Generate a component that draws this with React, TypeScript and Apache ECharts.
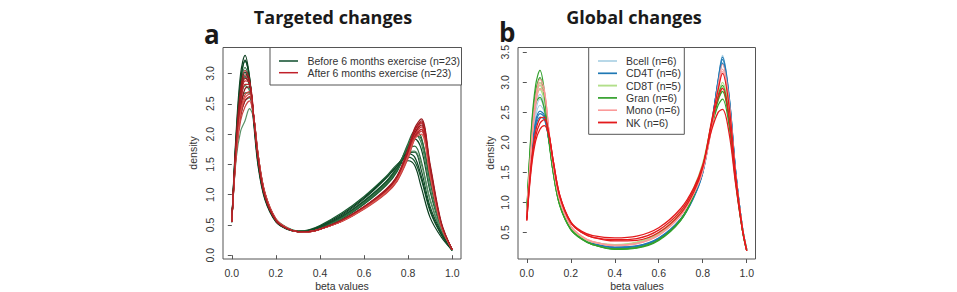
import React, { useEffect, useRef } from "react";
import * as echarts from "echarts";

// Beta-value grid for the targeted-changes densities
const betaGridA = [0, 0.02, 0.04, 0.06, 0.08, 0.1, 0.12, 0.15, 0.2, 0.25, 0.3, 0.35, 0.4, 0.5, 0.6, 0.7, 0.75, 0.8, 0.83, 0.86, 0.9, 0.95, 1.0];

// Density curves, before 6 months exercise
const beforeExercise = [
  [0.55, 2.05, 3.0, 3.3, 2.95, 2.15, 1.45, 0.92, 0.55, 0.43, 0.39, 0.41, 0.48, 0.68, 0.95, 1.28, 1.46, 1.56, 1.48, 1.12, 0.62, 0.3, 0.08],
  [0.56, 1.98, 2.9, 3.2, 2.92, 2.2, 1.5, 0.95, 0.56, 0.44, 0.4, 0.42, 0.49, 0.7, 0.97, 1.3, 1.5, 1.62, 1.55, 1.25, 0.72, 0.34, 0.08],
  [0.55, 1.9, 2.78, 3.1, 2.9, 2.25, 1.55, 0.97, 0.57, 0.44, 0.39, 0.4, 0.46, 0.64, 0.9, 1.22, 1.45, 1.75, 1.8, 1.55, 0.9, 0.4, 0.09],
  [0.54, 1.85, 2.65, 2.95, 2.8, 2.25, 1.58, 0.99, 0.58, 0.45, 0.4, 0.41, 0.46, 0.63, 0.88, 1.2, 1.44, 1.8, 1.92, 1.75, 1.05, 0.45, 0.09],
  [0.55, 1.8, 2.55, 2.8, 2.72, 2.25, 1.6, 1.0, 0.58, 0.45, 0.4, 0.4, 0.45, 0.61, 0.85, 1.16, 1.4, 1.82, 2.0, 1.85, 1.1, 0.45, 0.08],
  [0.55, 1.7, 2.3, 2.55, 2.6, 2.25, 1.62, 1.02, 0.59, 0.45, 0.4, 0.4, 0.44, 0.6, 0.84, 1.15, 1.38, 1.78, 1.98, 1.92, 1.25, 0.5, 0.09],
  [0.55, 1.6, 2.05, 2.22, 2.42, 2.25, 1.65, 1.03, 0.6, 0.46, 0.4, 0.4, 0.45, 0.62, 0.87, 1.2, 1.45, 1.7, 1.72, 1.5, 0.92, 0.42, 0.09],
  [0.56, 1.95, 2.85, 3.22, 2.95, 2.22, 1.5, 0.94, 0.56, 0.43, 0.39, 0.41, 0.47, 0.66, 0.93, 1.27, 1.48, 1.68, 1.62, 1.3, 0.75, 0.35, 0.08],
  [0.55, 1.75, 2.4, 2.68, 2.68, 2.25, 1.6, 1.0, 0.58, 0.45, 0.4, 0.4, 0.45, 0.62, 0.86, 1.18, 1.42, 1.85, 2.05, 1.95, 1.2, 0.48, 0.09],
  [0.55, 1.88, 2.72, 3.02, 2.85, 2.25, 1.55, 0.97, 0.57, 0.44, 0.39, 0.4, 0.46, 0.64, 0.89, 1.21, 1.44, 1.68, 1.7, 1.4, 0.8, 0.38, 0.08],
];

// Density curves, after 6 months exercise
const afterExercise = [
  [0.55, 1.85, 2.65, 2.98, 2.88, 2.25, 1.58, 0.98, 0.57, 0.44, 0.39, 0.39, 0.43, 0.58, 0.8, 1.08, 1.3, 1.72, 2.05, 2.22, 1.45, 0.52, 0.09],
  [0.55, 1.8, 2.55, 2.88, 2.85, 2.28, 1.6, 1.0, 0.58, 0.44, 0.39, 0.39, 0.43, 0.57, 0.79, 1.06, 1.28, 1.7, 2.02, 2.18, 1.42, 0.52, 0.09],
  [0.55, 1.75, 2.45, 2.75, 2.78, 2.28, 1.62, 1.01, 0.58, 0.45, 0.39, 0.39, 0.43, 0.57, 0.78, 1.05, 1.26, 1.68, 2.0, 2.15, 1.4, 0.5, 0.09],
  [0.55, 1.72, 2.38, 2.65, 2.7, 2.28, 1.63, 1.02, 0.59, 0.45, 0.39, 0.39, 0.43, 0.56, 0.77, 1.03, 1.24, 1.65, 1.98, 2.12, 1.38, 0.5, 0.09],
  [0.55, 1.68, 2.3, 2.55, 2.62, 2.27, 1.64, 1.03, 0.59, 0.45, 0.39, 0.39, 0.43, 0.56, 0.77, 1.03, 1.23, 1.62, 1.94, 2.08, 1.35, 0.49, 0.09],
  [0.55, 1.65, 2.22, 2.45, 2.55, 2.26, 1.65, 1.04, 0.6, 0.45, 0.39, 0.39, 0.43, 0.56, 0.76, 1.02, 1.22, 1.6, 1.92, 2.05, 1.32, 0.48, 0.09],
  [0.55, 1.9, 2.75, 3.05, 2.9, 2.25, 1.57, 0.97, 0.57, 0.44, 0.39, 0.39, 0.43, 0.58, 0.8, 1.09, 1.31, 1.75, 2.1, 2.25, 1.5, 0.55, 0.09],
  [0.55, 1.78, 2.5, 2.82, 2.82, 2.27, 1.61, 1.0, 0.58, 0.44, 0.39, 0.39, 0.43, 0.57, 0.79, 1.06, 1.27, 1.66, 1.96, 2.08, 1.38, 0.5, 0.09],
  [0.55, 1.7, 2.35, 2.6, 2.66, 2.27, 1.63, 1.02, 0.59, 0.45, 0.39, 0.39, 0.43, 0.56, 0.77, 1.04, 1.25, 1.64, 1.92, 2.0, 1.3, 0.48, 0.09],
  [0.55, 1.82, 2.6, 2.92, 2.86, 2.26, 1.59, 0.99, 0.58, 0.44, 0.39, 0.39, 0.43, 0.58, 0.8, 1.07, 1.29, 1.74, 2.08, 2.2, 1.46, 0.53, 0.09],
];

// Beta-value grid for the global-changes densities
const betaGridB = [0, 0.02, 0.04, 0.06, 0.08, 0.1, 0.12, 0.15, 0.2, 0.25, 0.3, 0.4, 0.5, 0.6, 0.7, 0.76, 0.8, 0.84, 0.87, 0.89, 0.92, 0.95, 0.98, 1.0];

const bcell = [
  [0.78, 1.85, 2.5, 2.72, 2.55, 2.05, 1.55, 1.0, 0.58, 0.4, 0.31, 0.25, 0.27, 0.4, 0.72, 1.1, 1.5, 2.3, 3.05, 3.42, 2.75, 1.5, 0.6, 0.22],
  [0.76, 1.8, 2.42, 2.62, 2.5, 2.05, 1.56, 1.01, 0.59, 0.41, 0.32, 0.26, 0.28, 0.41, 0.73, 1.11, 1.5, 2.28, 3.02, 3.38, 2.72, 1.48, 0.58, 0.22],
  [0.8, 1.9, 2.58, 2.8, 2.6, 2.05, 1.54, 0.99, 0.58, 0.4, 0.31, 0.25, 0.27, 0.4, 0.71, 1.08, 1.48, 2.27, 3.05, 3.45, 2.78, 1.52, 0.6, 0.22],
];
const cd4t = [
  [0.75, 1.75, 2.3, 2.48, 2.42, 2.05, 1.58, 1.03, 0.6, 0.41, 0.32, 0.25, 0.27, 0.4, 0.72, 1.1, 1.5, 2.3, 3.02, 3.38, 2.75, 1.52, 0.6, 0.22],
  [0.74, 1.72, 2.25, 2.42, 2.38, 2.05, 1.58, 1.03, 0.6, 0.42, 0.32, 0.26, 0.28, 0.41, 0.73, 1.11, 1.52, 2.32, 3.0, 3.32, 2.7, 1.5, 0.6, 0.22],
  [0.76, 1.78, 2.35, 2.52, 2.45, 2.05, 1.57, 1.02, 0.6, 0.41, 0.32, 0.25, 0.27, 0.4, 0.71, 1.09, 1.49, 2.28, 3.03, 3.42, 2.78, 1.52, 0.6, 0.22],
];
const cd8t = [
  [0.78, 1.95, 2.7, 2.95, 2.75, 2.15, 1.58, 1.0, 0.58, 0.42, 0.34, 0.29, 0.33, 0.48, 0.82, 1.22, 1.62, 2.3, 2.75, 2.92, 2.45, 1.4, 0.58, 0.22],
  [0.78, 1.92, 2.65, 2.88, 2.7, 2.14, 1.58, 1.0, 0.58, 0.42, 0.34, 0.3, 0.34, 0.5, 0.84, 1.25, 1.65, 2.3, 2.7, 2.85, 2.4, 1.38, 0.57, 0.22],
  [0.79, 1.98, 2.75, 3.0, 2.78, 2.15, 1.57, 0.99, 0.57, 0.42, 0.34, 0.29, 0.33, 0.48, 0.82, 1.22, 1.62, 2.32, 2.8, 3.0, 2.5, 1.42, 0.58, 0.22],
];
const gran = [
  [0.85, 2.2, 2.95, 3.2, 2.85, 2.1, 1.5, 0.95, 0.55, 0.39, 0.3, 0.23, 0.25, 0.38, 0.72, 1.15, 1.58, 2.3, 2.78, 2.95, 2.42, 1.38, 0.55, 0.2],
  [0.84, 2.15, 2.85, 3.08, 2.78, 2.08, 1.5, 0.95, 0.55, 0.39, 0.3, 0.22, 0.24, 0.37, 0.7, 1.12, 1.55, 2.25, 2.7, 2.85, 2.35, 1.35, 0.55, 0.2],
  [0.82, 2.05, 2.65, 2.75, 2.55, 2.02, 1.5, 0.96, 0.56, 0.4, 0.3, 0.23, 0.25, 0.38, 0.71, 1.13, 1.55, 2.25, 2.62, 2.72, 2.28, 1.32, 0.55, 0.2],
];
const mono = [
  [0.8, 1.95, 2.75, 3.05, 2.88, 2.22, 1.62, 1.03, 0.6, 0.43, 0.34, 0.28, 0.31, 0.45, 0.78, 1.15, 1.52, 2.25, 2.95, 3.3, 2.7, 1.48, 0.58, 0.2],
  [0.78, 1.9, 2.68, 2.98, 2.85, 2.22, 1.63, 1.04, 0.61, 0.44, 0.35, 0.29, 0.32, 0.46, 0.79, 1.16, 1.53, 2.24, 2.9, 3.22, 2.62, 1.45, 0.58, 0.2],
  [0.79, 1.88, 2.6, 2.9, 2.82, 2.22, 1.63, 1.04, 0.61, 0.44, 0.35, 0.29, 0.32, 0.46, 0.78, 1.15, 1.52, 2.22, 2.88, 3.18, 2.6, 1.44, 0.58, 0.2],
];
const nk = [
  [0.7, 1.6, 2.1, 2.32, 2.38, 2.15, 1.7, 1.12, 0.68, 0.52, 0.45, 0.41, 0.44, 0.58, 0.9, 1.25, 1.62, 2.2, 2.5, 2.55, 2.15, 1.3, 0.55, 0.2],
  [0.72, 1.65, 2.18, 2.4, 2.42, 2.15, 1.68, 1.1, 0.66, 0.5, 0.42, 0.38, 0.4, 0.54, 0.86, 1.22, 1.6, 2.3, 2.75, 2.9, 2.4, 1.4, 0.57, 0.2],
  [0.7, 1.55, 2.02, 2.22, 2.28, 2.12, 1.7, 1.12, 0.67, 0.5, 0.42, 0.36, 0.37, 0.5, 0.82, 1.18, 1.58, 2.35, 2.88, 3.15, 2.6, 1.45, 0.58, 0.2],
];

const cellTypes = ["Bcell (n=6)", "CD4T (n=6)", "CD8T (n=5)", "Gran (n=6)", "Mono (n=6)", "NK (n=6)"];
const cellCurves = [bcell, cd4t, cd8t, gran, mono, nk];
const exerciseLabels = ["Before 6 months exercise (n=23)", "After 6 months exercise (n=23)"];

const xTicks = [0, 0.2, 0.4, 0.6, 0.8, 1.0];
const yTicksA = [0, 0.5, 1.0, 1.5, 2.0, 2.5, 3.0];
const yTicksB = [0.5, 1.0, 1.5, 2.0, 2.5, 3.0, 3.5];

// Line colours
const beforeShades = ["#0b3d1f", "#175a30", "#2e6e42", "#0f4a26", "#3f7f52", "#1d5c34", "#5b9168", "#0d4424", "#2a6a3e", "#134f2b"];
const afterShades = ["#a3151c", "#c0272d", "#8c1218", "#d23a3a", "#b01e24", "#c94444", "#9a1a1f", "#b8282c", "#d9554f", "#a81d22"];
const cellColors = ["#A6CEE3", "#1F78B4", "#B2DF8A", "#33A02C", "#FB9A99", "#E31A1C"];
const cellWidths = [1.1, 1.2, 1.4, 1.2, 1.1, 1.3];

const FONT = "'Liberation Sans', Arial, sans-serif";
const TITLE_FONT = "'Open Sans', 'Liberation Sans', sans-serif";
const AXIS_COLOR = "#555";
const TEXT_COLOR = "#333";

const toPoints = (grid: number[], ys: number[]) => grid.map((x, i) => [x, ys[i]]);

function makeAxes(gridIndex: number, yMin: number, yMax: number, yTicks: number[]) {
  const fmt = (v: number) => v.toFixed(1);
  const xAxis = {
    type: "value",
    gridIndex,
    min: -0.04,
    max: 1.04,
    axisLine: { show: false },
    splitLine: { show: false },
    axisTick: { show: true, length: 4, customValues: xTicks, lineStyle: { color: AXIS_COLOR } },
    axisLabel: { customValues: xTicks, formatter: fmt, fontSize: 10.5, color: TEXT_COLOR, margin: 8, fontFamily: FONT },
  };
  const yAxis = {
    type: "value",
    gridIndex,
    min: yMin,
    max: yMax,
    axisLine: { show: false },
    splitLine: { show: false },
    axisTick: { show: true, length: 4, customValues: yTicks, lineStyle: { color: AXIS_COLOR } },
    axisLabel: { customValues: yTicks, formatter: fmt, fontSize: 10.5, color: TEXT_COLOR, margin: 8, rotate: 90, fontFamily: FONT },
  };
  return { xAxis, yAxis };
}

export default function App() {
  const ref = useRef<HTMLDivElement>(null);

  useEffect(() => {
    if (!ref.current) return;
    const chart = echarts.init(ref.current, undefined, { renderer: "svg" });

    const axesA = makeAxes(0, -0.063, 3.43, yTicksA);
    const axesB = makeAxes(1, 0.06, 3.58, yTicksB);

    const series: any[] = [];
    beforeExercise.forEach((c, i) => {
      series.push({
        type: "line", xAxisIndex: 0, yAxisIndex: 0, name: exerciseLabels[0],
        data: toPoints(betaGridA, c), smooth: 0.35, symbol: "none", silent: true,
        lineStyle: { width: 1.2, color: beforeShades[i % beforeShades.length] },
      });
    });
    afterExercise.forEach((c, i) => {
      series.push({
        type: "line", xAxisIndex: 0, yAxisIndex: 0, name: exerciseLabels[1],
        data: toPoints(betaGridA, c), smooth: 0.35, symbol: "none", silent: true,
        lineStyle: { width: 1.2, color: afterShades[i % afterShades.length] },
      });
    });
    cellCurves.forEach((group, gi) => {
      group.forEach((c) => {
        series.push({
          type: "line", xAxisIndex: 1, yAxisIndex: 1, name: cellTypes[gi],
          data: toPoints(betaGridB, c), smooth: 0.35, symbol: "none", silent: true,
          lineStyle: { width: cellWidths[gi], color: cellColors[gi] },
        });
      });
    });

    const text = (x: number, y: number, s: string, extra: any = {}) => ({
      type: "text", x, y, silent: true,
      style: { text: s, fill: TEXT_COLOR, font: `10.5px ${FONT}`, textVerticalAlign: "middle", ...extra },
    });
    const legLine = (x1: number, x2: number, y: number, color: string, w: number) => ({
      type: "line", silent: true, shape: { x1, y1: y, x2, y2: y }, style: { stroke: color, lineWidth: w },
    });

    const legendA = [
      { type: "rect", shape: { x: 270, y: 47.5, width: 191.5, height: 37.5 }, style: { fill: "#fff", stroke: AXIS_COLOR, lineWidth: 1 }, z: 10 },
      { ...legLine(279, 298, 61, "#0d4d2b", 1.5), z: 11 },
      { ...legLine(279, 298, 72.7, "#c0202a", 1.5), z: 11 },
      { ...text(307.5, 61, exerciseLabels[0]), z: 11 },
      { ...text(307.5, 72.7, exerciseLabels[1]), z: 11 },
    ];
    const rowYs = [61, 73.3, 85.6, 97.9, 110.2, 122.5];
    const legendB: any[] = [
      { type: "rect", shape: { x: 588.7, y: 47.5, width: 95.6, height: 86.8 }, style: { fill: "#fff", stroke: AXIS_COLOR, lineWidth: 1 }, z: 10 },
    ];
    cellTypes.forEach((name, i) => {
      legendB.push({ ...legLine(598, 617, rowYs[i], cellColors[i], cellWidths[i] + 0.5), z: 11 });
      legendB.push({ ...text(626, rowYs[i], name), z: 11 });
    });

    const titles = [
      { type: "text", x: 333, y: 17, silent: true, style: { text: "Targeted changes", font: `bold 18px ${TITLE_FONT}`, fill: "#1a1a1a", textAlign: "center", textVerticalAlign: "middle" } },
      { type: "text", x: 634, y: 17, silent: true, style: { text: "Global changes", font: `bold 18px ${TITLE_FONT}`, fill: "#1a1a1a", textAlign: "center", textVerticalAlign: "middle" } },
      { type: "text", x: 204, y: 34, silent: true, style: { text: "a", font: `bold 26px ${TITLE_FONT}`, fill: "#1a1a1a", textVerticalAlign: "middle" } },
      { type: "text", x: 499, y: 32, silent: true, style: { text: "b", font: `bold 26px ${TITLE_FONT}`, fill: "#1a1a1a", textVerticalAlign: "middle" } },
      text(342, 286, "beta values", { textAlign: "center" }),
      text(637, 286, "beta values", { textAlign: "center" }),
      { ...text(192.5, 153, "density", { textAlign: "center" }), rotation: Math.PI / 2 },
      { ...text(490, 153, "density", { textAlign: "center" }), rotation: Math.PI / 2 },
    ];

    chart.setOption({
      animation: false,
      backgroundColor: "#fff",
      grid: [
        { left: 223, top: 47.5, width: 238, height: 211.5, show: true, borderColor: AXIS_COLOR, borderWidth: 1, backgroundColor: "transparent" },
        { left: 518, top: 47.5, width: 237.5, height: 211.5, show: true, borderColor: AXIS_COLOR, borderWidth: 1, backgroundColor: "transparent" },
      ],
      xAxis: [axesA.xAxis, axesB.xAxis],
      yAxis: [axesA.yAxis, axesB.yAxis],
      series,
      graphic: [...legendA, ...legendB, ...titles],
    });

    return () => chart.dispose();
  }, []);

  return <div ref={ref} style={{ position: "absolute", left: 0, top: 0, width: 957, height: 292 }} />;
}
